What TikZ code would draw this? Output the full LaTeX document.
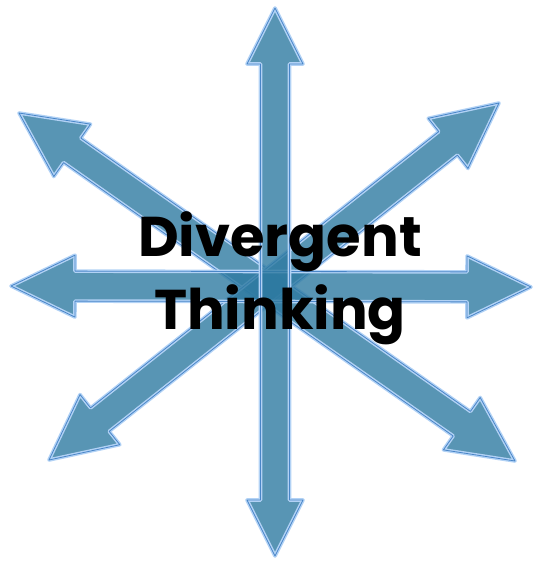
\documentclass[tikz,border=0pt]{standalone}
\usepackage{fontspec}
\setmainfont{Poppins}
\usepackage{tikz}
\usetikzlibrary{calc}
\definecolor{rayfill}{RGB}{46,122,161}
\definecolor{rayedge}{RGB}{74,134,200}
\definecolor{rayglow}{RGB}{178,210,245}
% #1,#2 tips, #3 head length, #4 head half width, #5 shaft half width
\newcommand{\twoway}[5]{%
  \path[draw=rayglow,line width=3.6pt,line join=round,fill=rayfill,fill opacity=0.8]
    (#1) -- ($(#1)!#3!(#2)!#4!-90:(#2)$) -- ($(#1)!#3!(#2)!#5!-90:(#2)$)
    -- ($(#2)!#3!(#1)!#5!90:(#1)$) -- ($(#2)!#3!(#1)!#4!90:(#1)$)
    -- (#2) -- ($(#2)!#3!(#1)!#4!-90:(#1)$) -- ($(#2)!#3!(#1)!#5!-90:(#1)$)
    -- ($(#1)!#3!(#2)!#5!90:(#2)$) -- ($(#1)!#3!(#2)!#4!90:(#2)$) -- cycle;
  \draw[rayedge,line width=0.8pt,line join=round]
    (#1) -- ($(#1)!#3!(#2)!#4!-90:(#2)$) -- ($(#1)!#3!(#2)!#5!-90:(#2)$)
    -- ($(#2)!#3!(#1)!#5!90:(#1)$) -- ($(#2)!#3!(#1)!#4!90:(#1)$)
    -- (#2) -- ($(#2)!#3!(#1)!#4!-90:(#1)$) -- ($(#2)!#3!(#1)!#5!-90:(#1)$)
    -- ($(#1)!#3!(#2)!#5!90:(#2)$) -- ($(#1)!#3!(#2)!#4!90:(#2)$) -- cycle;%
}

\begin{document}
\begin{tikzpicture}[x=1pt,y=-1pt]
  \useasboundingbox (0,0) rectangle (533,562);
  \coordinate (up) at (275,8);
  \coordinate (down) at (275,556);
  \coordinate (left) at (11,286);
  \coordinate (right) at (531,287);
  \coordinate (upleft) at (19,113);
  \coordinate (downright) at (515,461);
  \coordinate (upright) at (499,103);
  \coordinate (downleft) at (49,460);
  \twoway{upleft}{downright}{65pt}{32pt}{15pt}
  \twoway{upright}{downleft}{65pt}{32pt}{15pt}
  \twoway{left}{right}{64pt}{31pt}{15pt}
  \twoway{up}{down}{56pt}{28pt}{14.5pt}
  \node[font=\fontsize{56}{73}\selectfont\bfseries,align=center,inner sep=0pt]
    (label) at (280,278) {Divergent\\Thinking};
\end{tikzpicture}
\end{document}
